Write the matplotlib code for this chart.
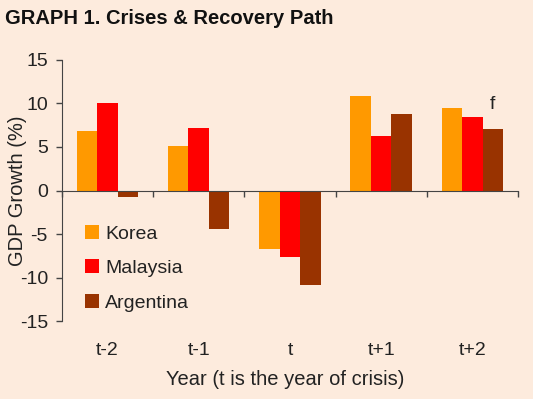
import matplotlib
matplotlib.use("Agg")
import matplotlib.pyplot as plt
import matplotlib.transforms as mtransforms
import numpy as np

# === DATA ===
periods = ["t-2", "t-1", "t", "t+1", "t+2"]
korea = [6.8, 5.1, -6.7, 10.9, 9.5]
malaysia = [10.0, 7.2, -7.6, 6.3, 8.4]
argentina = [-0.7, -4.4, -10.9, 8.8, 7.1]
series_names = ["Korea", "Malaysia", "Argentina"]
y_ticks = [-15, -10, -5, 0, 5, 10, 15]

# === STYLE ===
BG = "#FDEBDD"
COLORS = ["#FF9900", "#FF0000", "#993300"]
TXT = "#222222"
plt.rcParams["font.family"] = ["Liberation Sans", "DejaVu Sans"]
plt.rcParams["axes.unicode_minus"] = False

fig = plt.figure(figsize=(5.33, 3.99), dpi=100, facecolor=BG)
ax = fig.add_axes([0.116, 0.195, 0.856, 0.655], facecolor=BG)

x = np.arange(len(periods))
width = 0.225
for i, (vals, name) in enumerate(zip([korea, malaysia, argentina], series_names)):
    ax.bar(x + (i - 1) * width, vals, width, color=COLORS[i], label=name,
           edgecolor="none")

ax.set_xlim(-0.5, len(periods) - 0.5)
ax.set_ylim(-15, 15)
ax.set_yticks(y_ticks)
ax.tick_params(axis="y", direction="out", length=4, width=1, labelsize=14,
               colors="#444444", labelcolor=TXT, pad=6)

# x axis line sits at zero, ticks between categories
for s in ["top", "right"]:
    ax.spines[s].set_visible(False)
ax.spines["bottom"].set_position(("data", 0))
ax.spines["bottom"].set_color("#444444")
ax.spines["left"].set_color("#444444")
ax.set_xticks(np.arange(len(periods) + 1) - 0.5)
ax.set_xticklabels([])
ax.tick_params(axis="x", direction="out", length=4, width=1, colors="#444444")

# category labels below the plot
trans = mtransforms.blended_transform_factory(ax.transData, ax.transAxes)
for xi, lab in zip(x, periods):
    ax.text(xi, -0.114, lab, transform=trans, ha="center", va="center",
            fontsize=14, color=TXT)
ax.text(0.49, -0.222, "Year (t is the year of crisis)", transform=ax.transAxes,
        ha="center", va="center", fontsize=14.5, color=TXT)
ax.set_ylabel("GDP Growth (%)", fontsize=14.5, color=TXT)
ax.yaxis.set_label_coords(-0.077, 0.5)

ax.text(4.22, 9.9, "f", ha="center", va="center", fontsize=14, color=TXT)

leg = ax.legend(loc="lower left", bbox_to_anchor=(0.033, 0.007), frameon=False,
                fontsize=14, handlelength=0.75, handleheight=0.75,
                labelspacing=0.85, handletextpad=0.3, borderaxespad=0)
for t in leg.get_texts():
    t.set_color(TXT)

fig.text(0.01, 0.953, "GRAPH 1. Crises & Recovery Path", fontsize=14.5,
         fontweight="bold", color="#111111", ha="left", va="center")

fig.savefig("out.png", dpi=100, facecolor=BG)
